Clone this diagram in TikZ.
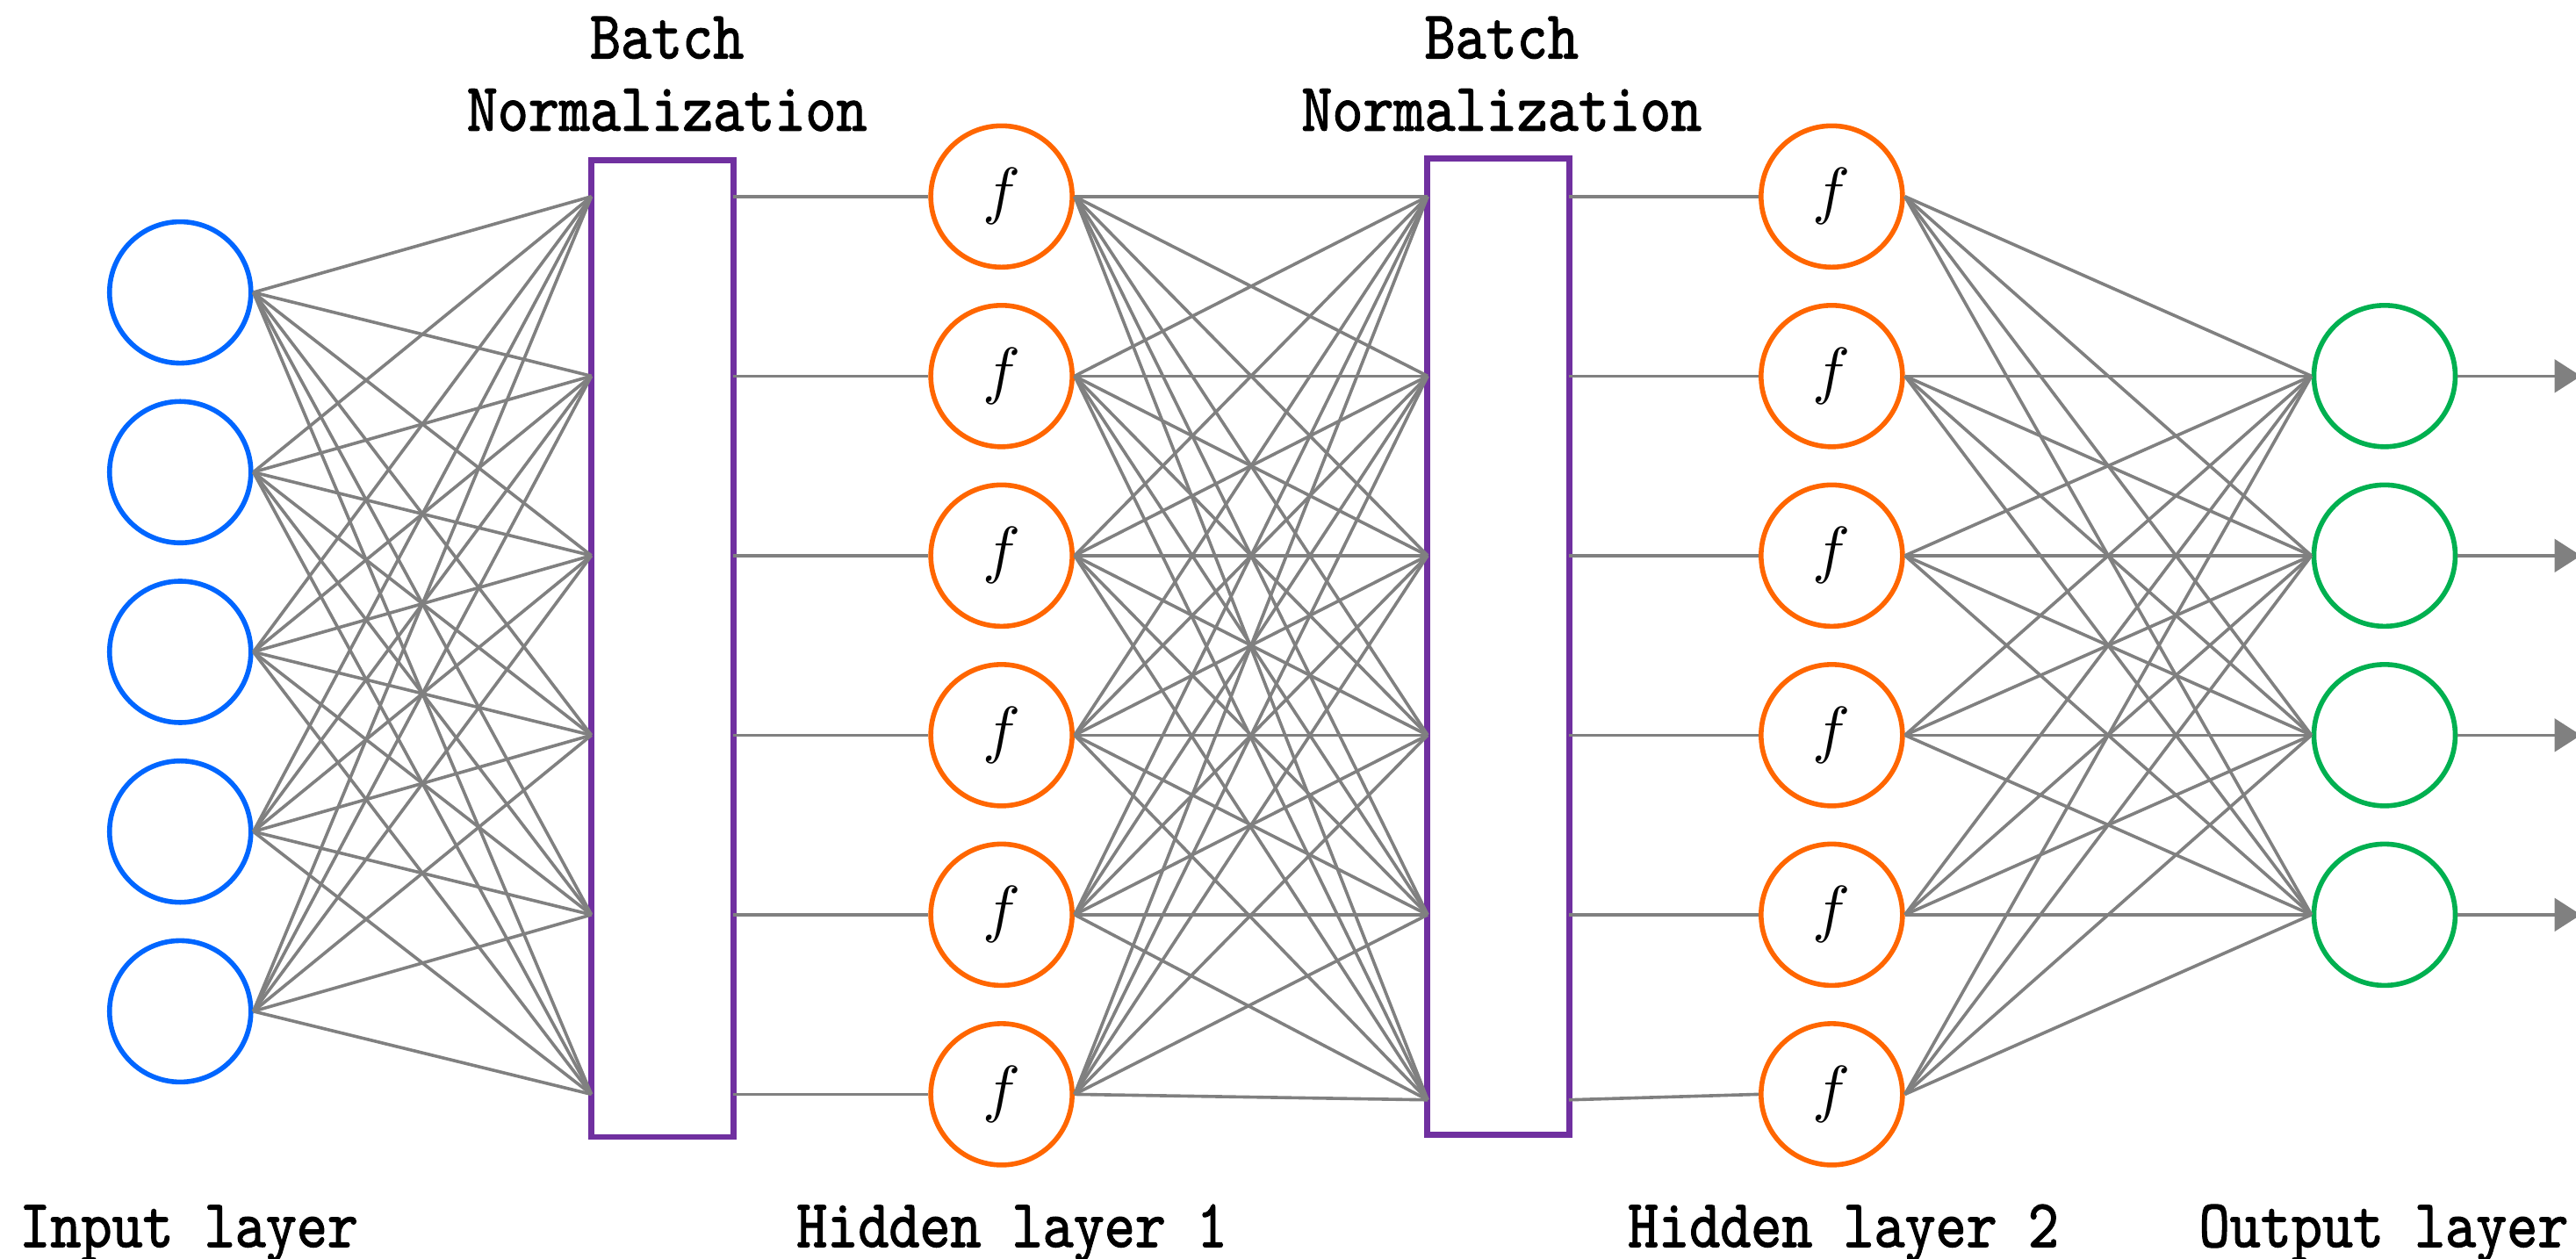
\documentclass[tikz,border=0pt]{standalone}
\usepackage{fontspec}
\newfontfamily\labelfont[FakeStretch=0.86,FakeBold=1.5]{lmmono10-regular.otf}
\usetikzlibrary{arrows.meta}

\definecolor{inblue}{RGB}{0,102,255}
\definecolor{hidorange}{RGB}{255,102,0}
\definecolor{outgreen}{RGB}{0,176,80}
\definecolor{bnpurple}{RGB}{112,48,160}
\definecolor{wiregray}{RGB}{128,128,128}

\tikzset{
  neuron/.style={circle, draw, line width=0.85pt, minimum size=0.86cm, inner sep=0pt,
                 font=\fontsize{10.8}{12}\selectfont},
  inneuron/.style={neuron, draw=inblue},
  hidneuron/.style={neuron, draw=hidorange},
  outneuron/.style={neuron, draw=outgreen},
  bnbox/.style={rectangle, draw=bnpurple, line width=1.05pt, fill=white,
                minimum width=0.865cm, minimum height=5.94cm, inner sep=0pt, outer sep=0pt},
  wire/.style={draw=wiregray, line width=0.55pt},
  outarrow/.style={wire, -{Triangle[length=0.16cm,width=0.2cm]}},
  caption/.style={font=\labelfont\fontsize{11.8}{14}\selectfont, anchor=base, inner sep=0pt}
}

\begin{document}
\begin{tikzpicture}[x=0.01cm, y=-0.01cm]
\useasboundingbox (0,0) rectangle (1568,766);

% Batch normalization blocks
\node[bnbox] (bn1) at (403.2,394.9) {};
\node[bnbox] (bn2) at (912.0,393.4) {};

% Input layer
\foreach \k/\y in {1/178.0,2/287.4,3/396.8,4/506.2,5/615.6}
  \node[inneuron] (in\k) at (109.7,\y) {};

% Hidden layers
\foreach \k/\y in {1/119.6,2/228.9,3/338.2,4/447.5,5/556.8,6/666.1} {
  \node[hidneuron] (ha\k) at (609.6,\y) {$f$};
  \node[hidneuron] (hb\k) at (1115.0,\y) {$f$};
  \coordinate (bnaL\k) at (360.0,\y);
  \coordinate (bnaR\k) at (446.5,\y);
}
\foreach \k/\y in {1/119.6,2/228.9,3/338.2,4/447.5,5/556.8,6/669.5} {
  \coordinate (bnbL\k) at (869.0,\y);
  \coordinate (bnbR\k) at (955.0,\y);
}

% Output layer
\foreach \k/\y in {1/228.9,2/338.2,3/447.5,4/556.8} {
  \node[outneuron] (out\k) at (1451.5,\y) {};
  \coordinate (end\k) at (1571,\y);
}

% Input -> first normalization block
\foreach \a in {1,...,5}
  \foreach \b in {1,...,6}
    \draw[wire] (in\a.east) -- (bnaL\b);

% First normalization block -> hidden layer 1
\foreach \k in {1,...,6}
  \draw[wire] (bnaR\k) -- (ha\k.west);

% Hidden layer 1 -> second normalization block
\foreach \a in {1,...,6}
  \foreach \b in {1,...,6}
    \draw[wire] (ha\a.east) -- (bnbL\b);

% Second normalization block -> hidden layer 2
\foreach \k in {1,...,6}
  \draw[wire] (bnbR\k) -- (hb\k.west);

% Hidden layer 2 -> output layer
\foreach \a in {1,...,6}
  \foreach \b in {1,...,4}
    \draw[wire] (hb\a.east) -- (out\b.west);

% Outputs
\foreach \k in {1,...,4}
  \draw[outarrow] (out\k.east) -- (end\k);

% Block titles
\node[caption] (bnaT1) at (406,35.5) {Batch};
\node[caption] (bnaT2) at (406,79.5) {Normalization};
\node[caption] (bnbT1) at (914,35.5) {Batch};
\node[caption] (bnbT2) at (914,79.5) {Normalization};

% Layer names
\node[caption] (capIn)  at (115,759) {Input layer};
\node[caption] (capH1)  at (616,759) {Hidden layer 1};
\node[caption] (capH2)  at (1122,759) {Hidden layer 2};
\node[caption] (capOut) at (1451,759) {Output layer};
\end{tikzpicture}
\end{document}
